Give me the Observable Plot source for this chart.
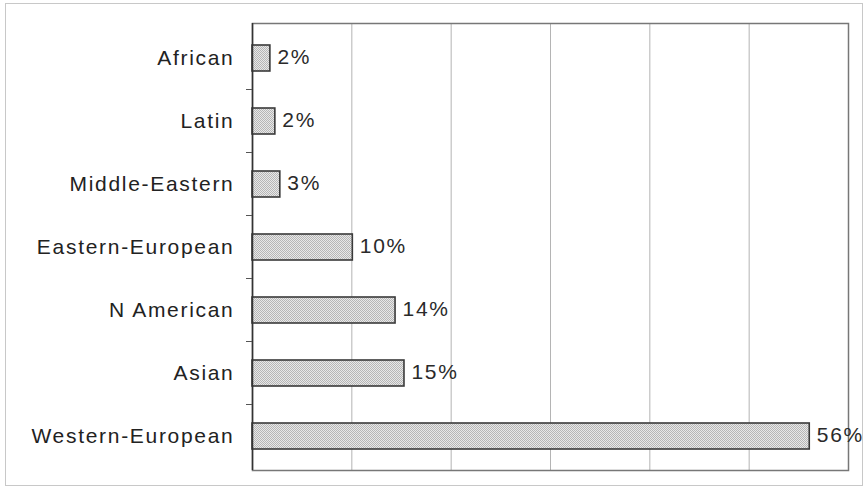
<!DOCTYPE html>
<html>
<head>
<meta charset="utf-8">
<script src="https://cdn.jsdelivr.net/npm/d3@7"></script>
<script src="https://cdn.jsdelivr.net/npm/@observablehq/plot@0.6"></script>
<style>
  html, body { margin: 0; padding: 0; background: #fff; }
  #wrap { position: relative; width: 864px; height: 487px; }
  #border { position: absolute; left: 5px; top: 3px; width: 856px; height: 481px; border: 1px solid #c8c8c8; pointer-events: none; }
  #chart svg text { letter-spacing: 1.7px; }
</style>
</head>
<body>
<div id="wrap"><div id="chart"></div><div id="border"></div></div>
<script>
const categories = ["African", "Latin", "Middle-Eastern", "Eastern-European", "N American", "Asian", "Western-European"];
const values = [1.8, 2.3, 2.8, 10.1, 14.4, 15.3, 56.1];
const valueLabels = ["2%", "2%", "3%", "10%", "14%", "15%", "56%"];
const xTicks = [0, 10, 20, 30, 40, 50, 60];

const data = categories.map((c, i) => ({category: c, value: values[i], label: valueLabels[i]}));

const chart = Plot.plot({
  width: 864,
  height: 487,
  marginLeft: 252,
  marginRight: 16,
  marginTop: 23,
  marginBottom: 17,
  style: {fontFamily: "'Liberation Sans', Arial, sans-serif", fontSize: "21px", color: "#222", background: "transparent"},
  x: {domain: [0, 60], axis: null},
  y: {domain: categories, paddingInner: 0.59, paddingOuter: 0.295, label: null},
  marks: [
    Plot.gridX(xTicks.slice(1, -1), {stroke: "#b4b4b4", strokeOpacity: 1, strokeWidth: 1}),
    Plot.frame({stroke: "#777", strokeWidth: 1.5}),
    Plot.barX(data, {x: "value", y: "category", fill: "url(#checker)", stroke: "#3a3a3a", strokeWidth: 1.6}),
    Plot.ruleX([0], {stroke: "#333", strokeWidth: 1.5}),
    Plot.axisY({tickSize: 0, tickPadding: 18, fontSize: 21, fill: "#222"}),
    Plot.text(data, {x: "value", y: "category", text: "label", textAnchor: "start", dx: 7, dy: -1, fontSize: 21, fill: "#2a2a2a"})
  ]
});

// pattern definition for the checkered bar fill
const svg = d3.select(chart);
const defs = svg.insert("defs", ":first-child");
const pat = defs.append("pattern").attr("id", "checker").attr("width", 2).attr("height", 2).attr("patternUnits", "userSpaceOnUse");
pat.append("rect").attr("width", 2).attr("height", 2).attr("fill", "#e8e8e8");
pat.append("rect").attr("width", 1).attr("height", 1).attr("fill", "#b6b6b6");
pat.append("rect").attr("x", 1).attr("y", 1).attr("width", 1).attr("height", 1).attr("fill", "#b6b6b6");

// category boundary ticks on the y axis, from Plot's own y scale
const ys = chart.scale("y");
const xs = chart.scale("x");
const step = ys.step;
const x0 = xs.apply(0);
const boundaries = categories.slice(1).map(c => ys.apply(c) + ys.bandwidth / 2 - step / 2);
svg.append("g").selectAll("line").data(boundaries).join("line")
  .attr("x1", x0 - 6).attr("x2", x0)
  .attr("y1", d => d).attr("y2", d => d)
  .attr("stroke", "#555").attr("stroke-width", 1);

document.getElementById("chart").appendChild(chart);
</script>
</body>
</html>
